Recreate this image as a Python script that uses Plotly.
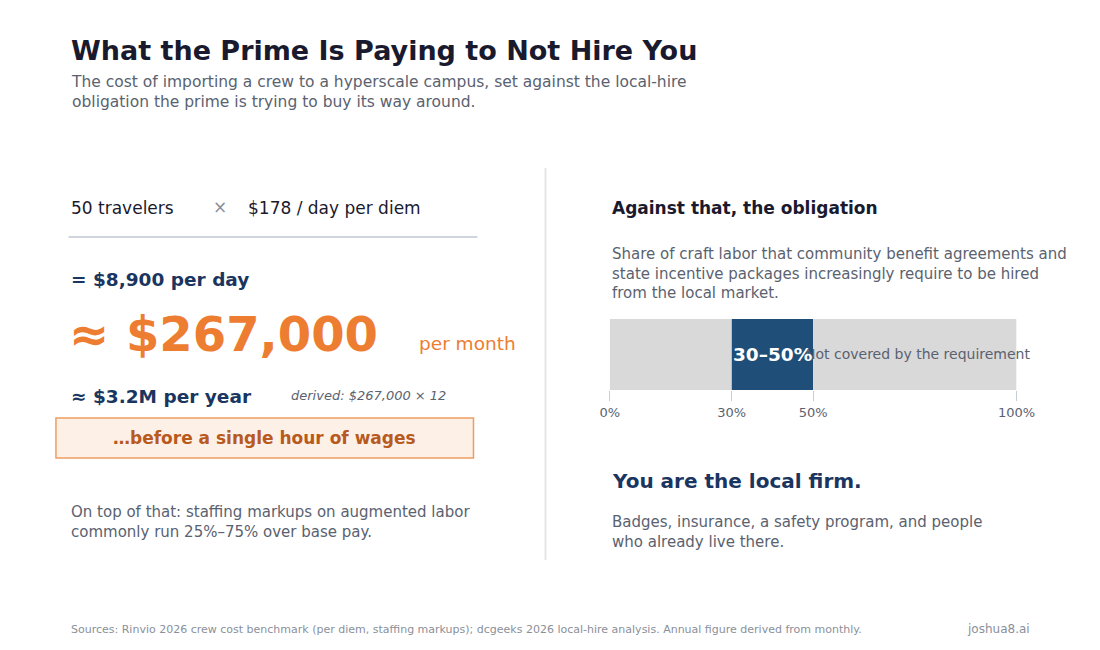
import plotly.graph_objects as go

seg_labels = ["Covered (below 30%)", "Local-hire requirement", "Not covered by the requirement"]
seg_start = [0, 30, 50]
seg_width = [30, 20, 50]
seg_colors = ["#d9d9d9", "#1f4e79", "#d9d9d9"]
tick_vals = [0, 30, 50, 100]
tick_text = ["0%", "30%", "50%", "100%"]

W, H = 1084, 634
OFF = 8
def px(x): return (x - OFF) / W
def py(y): return 1 - (y - OFF) / H

FONT = "DejaVu Sans"
DARK = "#1a1a2e"; NAVY = "#1a3560"; GRAY = "#5a6270"; ORANGE = "#ed7d31"

fig = go.Figure()
for lab, s, w, c in zip(seg_labels, seg_start, seg_width, seg_colors):
    fig.add_trace(go.Bar(y=[0], x=[w], base=[s], orientation="h", marker=dict(color=c, line=dict(width=0)),
                         width=1, name=lab, hoverinfo="skip"))

fig.update_layout(
    width=W, height=H, margin=dict(l=0, r=0, t=0, b=0), showlegend=False, barmode="overlay",
    paper_bgcolor="white", plot_bgcolor="white", font=dict(family=FONT),
    xaxis=dict(domain=[px(616), px(1034)], range=[0, 100], tickvals=tick_vals, ticktext=tick_text,
               ticks="outside", ticklen=10, tickcolor="#c8ccd4", showgrid=False, zeroline=False,
               showline=False, tickfont=dict(size=13, color=GRAY, family=FONT), fixedrange=True),
    yaxis=dict(domain=[py(390), py(319)], range=[-0.5, 0.5], visible=False, fixedrange=True),
)

def ann(x, y, text, size, color, bold=False, xanchor="left", italic=False):
    t = f"<b>{text}</b>" if bold else text
    if italic: t = f"<i>{t}</i>"
    fig.add_annotation(x=px(x), y=py(y), xref="paper", yref="paper", text=t, showarrow=False,
                       xanchor=xanchor, yanchor="middle", align="left",
                       font=dict(size=size, color=color, family=FONT))

ann(60, 50, "What the Prime Is Paying to Not Hire You", 27, DARK, bold=True)
ann(60, 92, "The cost of importing a crew to a hyperscale campus, set against the local-hire<br>obligation the prime is trying to buy its way around.", 15.5, GRAY)

ann(60, 208, "50 travelers", 17, DARK)
ann(216, 207, "×", 17, "#8a909a", xanchor="center")
ann(242, 208, "$178 / day per diem", 17, DARK)
fig.add_shape(type="line", xref="paper", yref="paper", x0=px(60), x1=px(480), y0=py(237), y1=py(237),
              line=dict(color="#d0d4dc", width=2))
ann(60, 279, "= $8,900 per day", 18.5, NAVY, bold=True)
ann(58, 334, "≈ $267,000", 48, ORANGE, bold=True)
ann(418, 343, "per month", 18.5, ORANGE)
ann(60, 396, "≈ $3.2M per year", 18.5, NAVY, bold=True)
ann(286, 395, "derived: $267,000 × 12", 13, GRAY, italic=True)
fig.add_shape(type="rect", xref="paper", yref="paper", x0=px(47), x1=px(476), y0=py(458), y1=py(418),
              fillcolor="#fdf0e6", line=dict(color="#ee9d60", width=1.5))
ann(261, 438, "…before a single hour of wages", 17, "#b85a1e", bold=True, xanchor="center")
ann(60, 522, "On top of that: staffing markups on augmented labor<br>commonly run 25%–75% over base pay.", 15, GRAY)

fig.add_shape(type="line", xref="paper", yref="paper", x0=px(550), x1=px(550), y0=py(168), y1=py(560),
              line=dict(color="#e6e6e6", width=2))

ann(616, 208, "Against that, the obligation", 17, DARK, bold=True)
ann(616, 273, "Share of craft labor that community benefit agreements and<br>state incentive packages increasingly require to be hired<br>from the local market.", 15, GRAY)
ann(932, 354, seg_labels[2], 14, GRAY, xanchor="center")
ann(783, 354, "30–50%", 18.5, "white", bold=True, xanchor="center")
ann(616, 481, "You are the local firm.", 20, NAVY, bold=True)
ann(616, 532, "Badges, insurance, a safety program, and people<br>who already live there.", 15, GRAY)

ann(60, 629, "Sources: Rinvio 2026 crew cost benchmark (per diem, staffing markups); dcgeeks 2026 local-hire analysis. Annual figure derived from monthly.", 11, "#8a909a")
ann(1050, 629, "joshua8.ai", 12, "#8a909a", xanchor="right")

fig.write_html("out.html")
